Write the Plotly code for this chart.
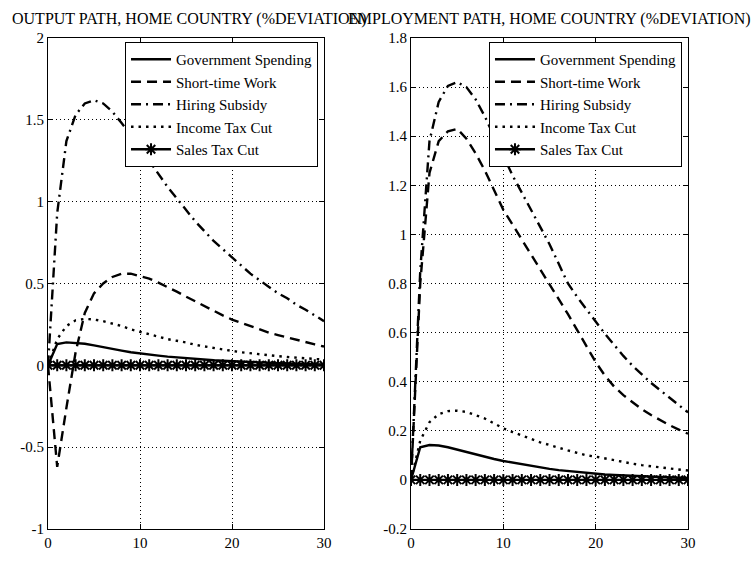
import plotly.graph_objects as go

t = list(range(31))

# ---- Output path (left panel) ----
out_gov = [0, 0.13, 0.14, 0.138, 0.132, 0.122, 0.11, 0.1, 0.09, 0.08, 0.072, 0.065, 0.059, 0.053, 0.048,
           0.043, 0.039, 0.035, 0.031, 0.028, 0.025, 0.022, 0.019, 0.017, 0.015, 0.013, 0.011, 0.009, 0.008, 0.006, 0.005]
out_stw = [0, -0.62, -0.26, 0.08, 0.32, 0.44, 0.5, 0.54, 0.56, 0.56, 0.545, 0.53, 0.505, 0.48, 0.45,
           0.42, 0.39, 0.36, 0.33, 0.305, 0.28, 0.26, 0.24, 0.22, 0.2, 0.185, 0.17, 0.155, 0.14, 0.128, 0.115]
out_hir = [0, 0.93, 1.37, 1.53, 1.6, 1.62, 1.6, 1.55, 1.48, 1.41, 1.33, 1.25, 1.17, 1.09, 1.02,
           0.95, 0.88, 0.82, 0.76, 0.71, 0.66, 0.61, 0.56, 0.52, 0.48, 0.44, 0.41, 0.37, 0.34, 0.305, 0.27]
out_inc = [0, 0.16, 0.24, 0.275, 0.284, 0.28, 0.27, 0.255, 0.24, 0.22, 0.205, 0.19, 0.175, 0.16, 0.15,
           0.14, 0.125, 0.115, 0.105, 0.095, 0.088, 0.08, 0.073, 0.067, 0.061, 0.056, 0.051, 0.046, 0.042, 0.038, 0.035]
out_sal = [0] * 31

# ---- Employment path (right panel) ----
emp_gov = [0, 0.133, 0.142, 0.14, 0.133, 0.123, 0.113, 0.103, 0.094, 0.085, 0.077, 0.07, 0.063, 0.057, 0.051,
           0.045, 0.04, 0.036, 0.032, 0.028, 0.025, 0.022, 0.02, 0.018, 0.016, 0.014, 0.012, 0.011, 0.01, 0.009, 0.008]
emp_stw = [0, 0.8, 1.25, 1.38, 1.42, 1.43, 1.39, 1.33, 1.26, 1.18, 1.1, 1.04, 0.98, 0.92, 0.86,
           0.8, 0.74, 0.675, 0.61, 0.545, 0.48, 0.425, 0.38, 0.345, 0.315, 0.288, 0.264, 0.243, 0.223, 0.205, 0.188]
emp_hir = [0, 0.85, 1.38, 1.54, 1.605, 1.62, 1.6, 1.55, 1.48, 1.4, 1.32, 1.24, 1.17, 1.1, 1.03,
           0.96, 0.88, 0.8, 0.745, 0.695, 0.645, 0.595, 0.55, 0.505, 0.465, 0.43, 0.395, 0.365, 0.335, 0.305, 0.275]
emp_inc = [0, 0.16, 0.235, 0.268, 0.28, 0.282, 0.277, 0.265, 0.25, 0.23, 0.21, 0.195, 0.18, 0.165, 0.153,
           0.142, 0.13, 0.12, 0.11, 0.1, 0.095, 0.087, 0.08, 0.073, 0.066, 0.06, 0.055, 0.05, 0.045, 0.041, 0.038]
emp_sal = [0] * 31

names = ["Government Spending", "Short-time Work", "Hiring Subsidy", "Income Tax Cut", "Sales Tax Cut"]
titles = ["OUTPUT PATH, HOME COUNTRY (%DEVIATION)", "EMPLOYMENT PATH, HOME COUNTRY (%DEVIATION)"]

x_ticks = [0, 10, 20, 30]
x_ticktext = ["0", "10", "20", "30"]
y1_ticks = [-1, -0.5, 0, 0.5, 1, 1.5, 2]
y1_ticktext = ["-1", "-0.5", "0", "0.5", "1", "1.5", "2"]
y2_ticks = [-0.2, 0, 0.2, 0.4, 0.6, 0.8, 1, 1.2, 1.4, 1.6, 1.8]
y2_ticktext = ["-0.2", "0", "0.2", "0.4", "0.6", "0.8", "1", "1.2", "1.4", "1.6", "1.8"]

FONT = "Liberation Serif"
FS = 15
dashes = ["solid", "10px,6px", "10px,5px,2px,5px", "2.5px,5px", "solid"]

fig = go.Figure()
panels = [
    ([out_gov, out_stw, out_hir, out_inc, out_sal], "x", "y", "legend"),
    ([emp_gov, emp_stw, emp_hir, emp_inc, emp_sal], "x2", "y2", "legend2"),
]
for series, xa, ya, lg in panels:
    for i, (vals, nm) in enumerate(zip(series, names)):
        kw = dict(x=t, y=vals, name=nm, xaxis=xa, yaxis=ya, legend=lg,
                  line=dict(color="black", width=2.4, dash=dashes[i]))
        if i == 4:
            kw["mode"] = "lines+markers"
            kw["marker"] = dict(symbol="asterisk-open", size=10, color="black",
                                line=dict(color="black", width=2))
        else:
            kw["mode"] = "lines"
        fig.add_trace(go.Scatter(**kw))

ax_common = dict(showline=True, linecolor="black", linewidth=1, mirror="ticks",
                 ticks="inside", ticklen=5, tickcolor="black",
                 showgrid=True, gridcolor="black", gridwidth=1, griddash="1px,3px",
                 zeroline=False, tickfont=dict(family=FONT, size=FS, color="black"))

legend_common = dict(xanchor="right", yanchor="top", bgcolor="white",
                     bordercolor="black", borderwidth=1,
                     font=dict(family=FONT, size=FS, color="black"),
                     tracegroupgap=0, itemwidth=40)

fig.update_layout(
    width=753, height=563,
    margin=dict(l=48, r=65, t=38, b=22),
    paper_bgcolor="white", plot_bgcolor="white",
    font=dict(family=FONT, size=FS, color="black"),
    xaxis=dict(domain=[0, 0.43125], range=[0, 30], tickvals=x_ticks, ticktext=x_ticktext, anchor="y", **ax_common),
    yaxis=dict(domain=[0, 1], range=[-1, 2], tickvals=y1_ticks, ticktext=y1_ticktext, anchor="x", **ax_common),
    xaxis2=dict(domain=[0.5672, 1], range=[0, 30], tickvals=x_ticks, ticktext=x_ticktext, anchor="y2", **ax_common),
    yaxis2=dict(domain=[0, 1], range=[-0.2, 1.8], tickvals=y2_ticks, ticktext=y2_ticktext, anchor="x2", **ax_common),
    legend=dict(x=0.4219, y=0.992, **legend_common),
    legend2=dict(x=0.9906, y=0.992, **legend_common),
    annotations=[
        dict(text=titles[0], x=0.2205, y=1.0378, xref="paper", yref="paper",
             xanchor="center", yanchor="middle", showarrow=False,
             font=dict(family=FONT, size=16, color="black")),
        dict(text=titles[1], x=(0.5672 + 1) / 2, y=1.0378, xref="paper", yref="paper",
             xanchor="center", yanchor="middle", showarrow=False,
             font=dict(family=FONT, size=16, color="black")),
    ],
)

fig.write_html("out.html")
